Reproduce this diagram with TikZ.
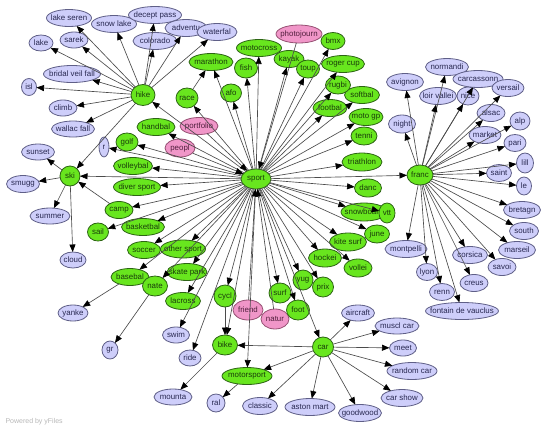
\documentclass[tikz,border=0pt]{standalone}
\usepackage{fontspec}
\setmainfont{Liberation Sans}
\usetikzlibrary{shapes.geometric,arrows.meta}
\definecolor{pfill}{RGB}{206,206,250}
\definecolor{pdraw}{RGB}{95,95,135}
\definecolor{ptext}{RGB}{40,40,80}
\definecolor{gfill}{RGB}{104,230,30}
\definecolor{gdraw}{RGB}{45,100,20}
\definecolor{gtext}{RGB}{25,60,10}
\definecolor{kfill}{RGB}{240,150,200}
\definecolor{kdraw}{RGB}{150,80,115}
\definecolor{ktext}{RGB}{80,30,60}
\definecolor{edgec}{RGB}{75,75,75}
\newcommand\nd[7]{\node[#1,minimum width=#5pt,minimum height=#6pt] (#2) at (#3,#4) {\makebox[0pt]{#7}};}
\begin{document}
\begin{tikzpicture}[x=1pt,y=-1pt,
  every node/.style={font=\fontsize{7.9}{9}\selectfont},
  tag/.style={ellipse,draw,inner sep=0pt,outer sep=0pt,line width=0.8pt},
  pn/.style={tag,fill=pfill,draw=pdraw,text=ptext},
  gn/.style={tag,fill=gfill,draw=gdraw,text=gtext},
  kn/.style={tag,fill=kfill,draw=kdraw,text=ktext},
  ar/.style={draw=edgec,line width=0.65pt,-{Triangle[length=7.5pt,width=6pt,color=black]}},
  credit/.style={anchor=west,text=black!28,font=\fontsize{7}{8}\selectfont}]
\fill[white] (0,0) rectangle (546,429);
\useasboundingbox (0,0) rectangle (546,429);
% ---- purple nodes
\nd{pn}{lakeseren}{69}{18}{45}{17}{lake seren}
\nd{pn}{snowlake}{114}{24}{45}{17}{snow lake}
\nd{pn}{colorado}{155}{41}{44}{17}{colorado}
\nd{pn}{deceptpass}{155}{15}{53}{17}{decept pass}
\nd{pn}{adventu}{186}{28}{42}{17}{adventu}
\nd{pn}{waterfal}{217}{32}{40}{17}{waterfal}
\nd{pn}{sarek}{74}{40}{28}{16}{sarek}
\nd{pn}{lake}{41}{43}{24}{16}{lake}
\nd{pn}{bridal}{72}{74}{57}{17}{bridal veil fall}
\nd{pn}{isl}{29}{87}{15}{17}{isl}
\nd{pn}{climb}{63}{108}{28}{16}{climb}
\nd{pn}{wallac}{73}{129}{43}{16}{wallac fall}
\nd{pn}{sunset}{38}{152}{33}{16}{sunset}
\nd{pn}{smugg}{23}{184}{33}{17}{smugg}
\nd{pn}{summer}{50}{216}{40}{16}{summer}
\nd{pn}{cloud}{73}{260}{26}{16}{cloud}
\nd{pn}{r}{104}{147}{10}{20}{r}
\nd{pn}{yanke}{73}{313}{30}{16}{yanke}
\nd{pn}{gr}{110}{350}{16}{18}{gr}
\nd{pn}{swim}{176}{335}{27}{16}{swim}
\nd{pn}{ride}{190}{358}{22}{16}{ride}
\nd{pn}{mounta}{173}{397}{38}{16}{mounta}
\nd{pn}{ral}{216}{403}{18}{18}{ral}
\nd{pn}{classic}{260}{406}{35}{17}{classic}
\nd{pn}{astonmart}{310}{407}{50}{17}{aston mart}
\nd{pn}{goodwood}{360}{413}{43}{17}{goodwood}
\nd{pn}{carshow}{402}{398}{42}{17}{car show}
\nd{pn}{randomcar}{412}{371}{50}{17}{random car}
\nd{pn}{meet}{403}{348}{27}{16}{meet}
\nd{pn}{musclcar}{397}{326}{44}{16}{muscl car}
\nd{pn}{aircraft}{358}{313}{33}{16}{aircraft}
\nd{pn}{avignon}{405}{82}{37}{17}{avignon}
\nd{pn}{normandi}{447}{67}{43}{17}{normandi}
\nd{pn}{carcassonn}{478}{79}{50}{17}{carcassonn}
\nd{pn}{loirvallei}{438}{96}{37}{17}{loir vallei}
\nd{pn}{nice}{468}{96}{22}{18}{nice}
\nd{pn}{versail}{508}{88}{32}{17}{versail}
\nd{pn}{alsac}{491}{113}{28}{17}{alsac}
\nd{pn}{night}{402}{124}{27}{18}{night}
\nd{pn}{alp}{520}{121}{20}{18}{alp}
\nd{pn}{market}{485}{135}{32}{17}{market}
\nd{pn}{pari}{515}{143}{22}{17}{pari}
\nd{pn}{lill}{525}{163}{17}{20}{lill}
\nd{pn}{saint}{499}{173}{25}{17}{saint}
\nd{pn}{le}{524}{186}{15}{18}{le}
\nd{pn}{bretagn}{522}{210}{37}{17}{bretagn}
\nd{pn}{south}{524}{231}{29}{17}{south}
\nd{pn}{marseil}{517}{250}{37}{17}{marseil}
\nd{pn}{corsica}{470}{255}{35}{17}{corsica}
\nd{pn}{savoi}{502}{267}{28}{17}{savoi}
\nd{pn}{creus}{474}{283}{28}{17}{creus}
\nd{pn}{montpelli}{406}{249}{42}{17}{montpelli}
\nd{pn}{lyon}{427}{272}{21}{17}{lyon}
\nd{pn}{renn}{442}{292}{25}{17}{renn}
\nd{pn}{fontain}{462}{311}{73}{17}{fontain de vauclus}
% ---- pink nodes
\nd{kn}{photojourn}{299}{34}{46}{18}{photojourn}
\nd{kn}{portfolio}{199}{126}{38}{17}{portfolio}
\nd{kn}{peopl}{180}{148}{30}{18}{peopl}
\nd{kn}{friend}{248}{310}{30}{20}{friend}
\nd{kn}{natur}{275}{319}{28}{20}{natur}
% ---- green nodes
\nd{gn}{hike}{143}{95}{24}{21}{hike}
\nd{gn}{ski}{70}{176}{20}{20}{ski}
\nd{gn}{handbal}{156}{127}{38}{17}{handbal}
\nd{gn}{golf}{127}{142}{22}{18}{golf}
\nd{gn}{volleybal}{133}{166}{39}{17}{volleybal}
\nd{gn}{diversport}{137}{187}{47}{17}{diver sport}
\nd{gn}{camp}{119}{210}{28}{17}{camp}
\nd{gn}{sail}{98}{232}{21}{18}{sail}
\nd{gn}{basketbal}{143}{227}{43}{17}{basketbal}
\nd{gn}{soccer}{144}{250}{33}{17}{soccer}
\nd{gn}{othersport}{183}{249}{45}{18}{other sport}
\nd{gn}{basebal}{130}{277}{38}{17}{basebal}
\nd{gn}{nate}{155}{286}{25}{20}{nate}
\nd{gn}{skatepark}{187}{272}{40}{17}{skate park}
\nd{gn}{lacross}{183}{301}{35}{17}{lacross}
\nd{gn}{cycl}{225}{296}{22}{22}{cycl}
\nd{gn}{bike}{225}{345}{25}{20}{bike}
\nd{gn}{motorsport}{247}{376}{50}{17}{motorsport}
\nd{gn}{car}{323}{347}{21}{20}{car}
\nd{gn}{foot}{298}{310}{23}{20}{foot}
\nd{gn}{surf}{280}{293}{22}{20}{surf}
\nd{gn}{yug}{303}{280}{20}{20}{yug}
\nd{gn}{prix}{323}{287}{21}{20}{prix}
\nd{gn}{hockei}{325}{258}{33}{18}{hockei}
\nd{gn}{vollei}{358}{268}{28}{18}{vollei}
\nd{gn}{kitesurf}{348}{242}{37}{18}{kite surf}
\nd{gn}{june}{377}{234}{25}{18}{june}
\nd{gn}{snowboard}{364}{212}{46}{18}{snowboard}
\nd{gn}{vtt}{387}{213}{16}{20}{vtt}
\nd{gn}{danc}{368}{188}{27}{18}{danc}
\nd{gn}{triathlon}{362}{162}{40}{18}{triathlon}
\nd{gn}{tenni}{364}{136}{26}{18}{tenni}
\nd{gn}{motogp}{366}{117}{34}{17}{moto gp}
\nd{gn}{softbal}{362}{95}{35}{17}{softbal}
\nd{gn}{rugbi}{338}{85}{25}{18}{rugbi}
\nd{gn}{football}{330}{108}{34}{17}{footbal}
\nd{gn}{rogercup}{343}{64}{43}{17}{roger cup}
\nd{gn}{bmx}{333}{41}{24}{17}{bmx}
\nd{gn}{kayak}{289}{59}{30}{17}{kayak}
\nd{gn}{toup}{308}{69}{23}{18}{toup}
\nd{gn}{motocross}{259}{48}{45}{17}{motocross}
\nd{gn}{fish}{246}{68}{23}{20}{fish}
\nd{gn}{marathon}{211}{62}{44}{17}{marathon}
\nd{gn}{race}{187}{98}{22}{20}{race}
\nd{gn}{afo}{231}{93}{21}{18}{afo}
\nd{gn}{sport}{256}{179}{30}{20}{sport}
\nd{gn}{franc}{420}{175}{26}{20}{franc}
% ---- edges
\foreach \t in {lakeseren,snowlake,deceptpass,colorado,adventu,waterfal,sarek,lake,bridal,isl,climb,wallac,ski}
  \draw[ar] (hike) -- (\t);
\foreach \t in {sunset,smugg,summer,cloud}
  \draw[ar] (ski) -- (\t);
\draw[ar] (camp) -- (ski);
\foreach \t in {hike,ski,r,handbal,golf,volleybal,diversport,camp,sail,basketbal,soccer,othersport,basebal,nate,skatepark,lacross,swim,ride,cycl,bike,motorsport,car,surf,yug,prix,foot,hockei,vollei,kitesurf,june,snowboard,vtt,danc,triathlon,tenni,motogp,softbal,football,rugbi,rogercup,bmx,toup,kayak,motocross,fish,afo,marathon,race,franc}
  \draw[ar] (sport) -- (\t);
\foreach \s in {portfolio,peopl,photojourn,friend,natur}
  \draw[ar] (\s) -- (sport);
\draw[ar] (race) -- (marathon);
\draw[ar] (basebal) -- (yanke);
\draw[ar] (nate) -- (gr);
\draw[ar] (cycl) -- (bike);
\draw[ar] (bike) -- (mounta);
\draw[ar] (motorsport) -- (ral);
\foreach \t in {bike,motorsport,classic,astonmart,goodwood,carshow,randomcar,meet,musclcar,aircraft}
  \draw[ar] (car) -- (\t);
\foreach \t in {avignon,normandi,loirvallei,carcassonn,nice,versail,alsac,night,alp,market,pari,lill,saint,le,bretagn,south,marseil,savoi,corsica,creus,montpelli,lyon,renn,fontain}
  \draw[ar] (franc) -- (\t);
\node[credit] (poweredby) at (2,422) {Powered by yFiles};
\end{tikzpicture}
\end{document}
